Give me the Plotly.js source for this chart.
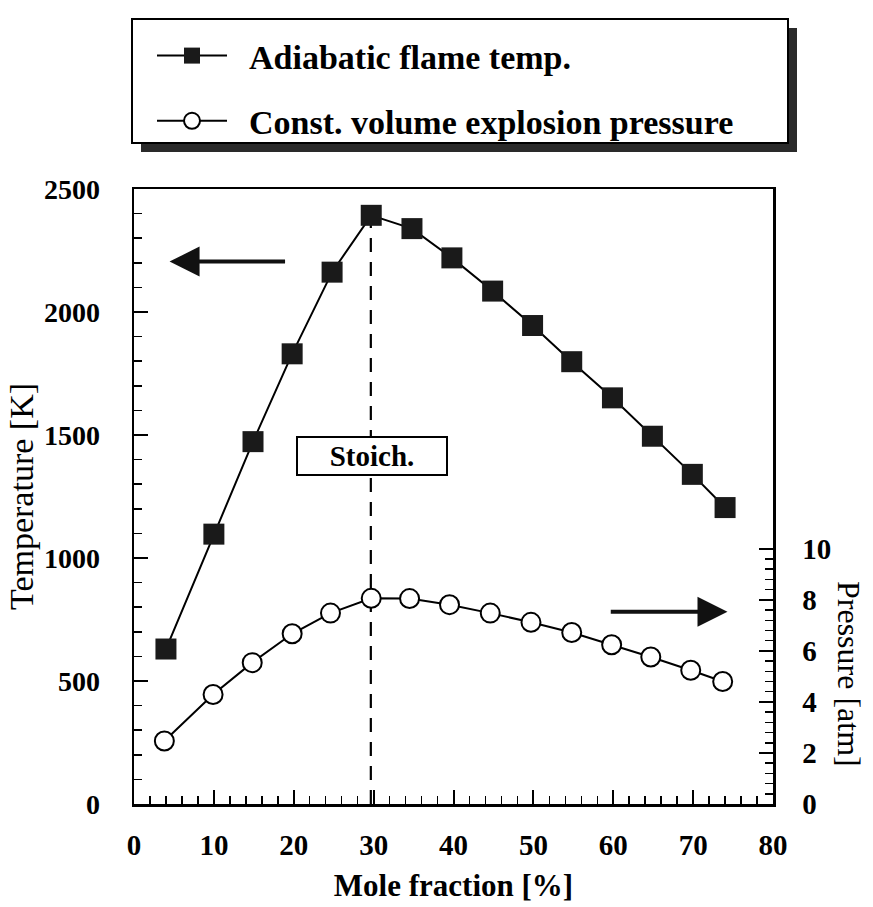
<!DOCTYPE html>
<html>
<head>
<meta charset="utf-8">
<script src="https://cdn.plot.ly/plotly-3.0.1.min.js"></script>
<style>html,body{margin:0;padding:0;background:#fff;}#chart{width:873px;height:907px;}</style>
</head>
<body>
<div id="chart"></div>
<script>
// Adiabatic flame temperature [K] vs mole fraction [%]
var tempX = [4.0, 10.0, 14.9, 19.8, 24.8, 29.7, 34.8, 39.8, 44.9, 49.9, 54.8, 59.9, 64.9, 69.9, 74.0];
var tempK = [630, 1097, 1473, 1830, 2162, 2393, 2339, 2220, 2085, 1945, 1798, 1651, 1495, 1340, 1205];
// Constant volume explosion pressure [atm] vs mole fraction [%]
var presX = [3.8, 9.9, 14.8, 19.8, 24.6, 29.7, 34.5, 39.5, 44.6, 49.7, 54.8, 59.8, 64.7, 69.7, 73.7];
var presAtm = [2.47, 4.29, 5.54, 6.67, 7.48, 8.06, 8.05, 7.81, 7.48, 7.12, 6.72, 6.24, 5.76, 5.24, 4.80];
// Stoichiometric mole fraction and reference levels
var stoichX = 29.65;
var stoichTopK = 2370;
var stoichLabelK = 1415;
var leftArrow = {x0: 19.1, x1: 4.45, k: 2205};
var rightArrow = {x0: 59.5, x1: 74.3, k: 782};
// Axis ticks
var pressureTicks = [0, 2, 4, 6, 8, 10];
var names = ['Adiabatic flame temp.', 'Const. volume explosion pressure'];

var FONT = 'Liberation Serif, Times New Roman, serif';
var GAP = '\u00a0\u00a0';

var minorP = [];
for (var i = 1; i < 25; i++) { var v = +(i * 0.4).toFixed(1); if (v < 10 && Math.abs(v / 2 - Math.round(v / 2)) > 1e-6) minorP.push(v); }

var traces = [
  {
    x: tempX, y: tempK, name: GAP + names[0], type: 'scatter', mode: 'lines+markers',
    line: {color: '#000', width: 2},
    marker: {symbol: 'square', size: 21, color: '#1a1a1a', line: {width: 0}},
    legendgroup: 'a', yaxis: 'y'
  },
  {
    x: presX, y: presAtm, name: GAP + names[1], type: 'scatter', mode: 'lines+markers',
    line: {color: '#000', width: 2},
    marker: {symbol: 'circle', size: 19, color: '#fff', line: {width: 2, color: '#000'}},
    legendgroup: 'b', yaxis: 'y2'
  }
];

var L = 134, R = 773, T = 189, B = 804;
function px(xp) { return (xp - L) / (R - L); }
function py(yp) { return (B - yp) / (B - T); }

var layout = {
  width: 873, height: 907,
  margin: {l: L, r: 873 - R, t: T, b: 907 - B, pad: 0},
  paper_bgcolor: '#fff', plot_bgcolor: '#fff',
  font: {family: FONT, color: '#000'},
  showlegend: true,
  legend: {
    x: px(152), y: py(27), xanchor: 'left', yanchor: 'top',
    bgcolor: 'rgba(0,0,0,0)', borderwidth: 0,
    font: {family: FONT, size: 34, color: '#000', weight: 'bold'},
    tracegroupgap: 18, itemwidth: 70, traceorder: 'grouped'
  },
  xaxis: {
    range: [0, 80], dtick: 10, tick0: 0,
    ticks: 'inside', ticklen: 14, tickwidth: 2, tickcolor: '#000',
    minor: {dtick: 2, ticks: 'inside', ticklen: 8, tickwidth: 1.5, tickcolor: '#000'},
    showline: true, linewidth: 2.5, linecolor: '#000', mirror: true,
    showgrid: false, zeroline: false,
    tickfont: {family: FONT, size: 29, weight: 'bold'},
    ticklabelstandoff: 14,
    title: {text: 'Mole fraction [%]', font: {family: FONT, size: 31, weight: 'bold'}, standoff: 14}
  },
  yaxis: {
    range: [0, 2500], dtick: 500, tick0: 0,
    ticks: 'inside', ticklen: 14, tickwidth: 2, tickcolor: '#000',
    minor: {dtick: 100, ticks: 'inside', ticklen: 8, tickwidth: 1.5, tickcolor: '#000'},
    showline: true, linewidth: 2.5, linecolor: '#000', mirror: true,
    showgrid: false, zeroline: false,
    tickfont: {family: FONT, size: 28, weight: 'bold'},
    ticklabelstandoff: 26,
    title: {text: 'Temperature [K]', font: {family: FONT, size: 34}, standoff: 0}
  },
  yaxis2: {
    overlaying: 'y', side: 'right', range: [0, 24.1],
    tickmode: 'array', tickvals: pressureTicks,
    ticks: 'inside', ticklen: 14, tickwidth: 2, tickcolor: '#000',
    minor: {tickmode: 'array', tickvals: minorP, ticks: 'inside', ticklen: 8, tickwidth: 1.5, tickcolor: '#000'},
    showline: true, linewidth: 2.5, linecolor: '#000',
    showgrid: false, zeroline: false,
    tickfont: {family: FONT, size: 29, weight: 'bold'},
    ticklabelstandoff: 21
  },
  shapes: [
    {type: 'line', xref: 'x', yref: 'y', x0: stoichX, x1: stoichX, y0: 0, y1: stoichTopK,
     line: {color: '#000', width: 2.2, dash: '14px,10px'}, layer: 'below'},
    {type: 'rect', xref: 'paper', yref: 'paper', x0: px(141), x1: px(797), y0: py(152), y1: py(28),
     fillcolor: '#2a2a2a', line: {width: 0}, layer: 'above'},
    {type: 'rect', xref: 'paper', yref: 'paper', x0: px(132), x1: px(788), y0: py(143), y1: py(19),
     fillcolor: '#fff', line: {width: 2, color: '#000'}, layer: 'above'}
  ],
  annotations: [
    {x: stoichX + 0.15, y: stoichLabelK, xref: 'x', yref: 'y', text: '<b>Stoich.</b>', showarrow: false,
     font: {family: FONT, size: 29, color: '#000'}, bgcolor: '#fff', bordercolor: '#000', borderwidth: 2,
     width: 144, height: 32, borderpad: 2},
    {x: leftArrow.x1, y: leftArrow.k, ax: leftArrow.x0, ay: leftArrow.k, xref: 'x', yref: 'y', axref: 'x', ayref: 'y',
     text: '', showarrow: true, arrowhead: 2, arrowsize: 1.5, arrowwidth: 4, arrowcolor: '#111'},
    {x: rightArrow.x1, y: rightArrow.k, ax: rightArrow.x0, ay: rightArrow.k, xref: 'x', yref: 'y', axref: 'x', ayref: 'y',
     text: '', showarrow: true, arrowhead: 2, arrowsize: 1.5, arrowwidth: 4, arrowcolor: '#111'},
    {x: px(849), y: py(674), xref: 'paper', yref: 'paper', text: 'Pressure [atm]', showarrow: false,
     textangle: 90, font: {family: FONT, size: 32, color: '#000'}, xanchor: 'center', yanchor: 'middle'}
  ]
};

Plotly.newPlot('chart', traces, layout, {displayModeBar: false, staticPlot: true});
</script>
</body>
</html>
